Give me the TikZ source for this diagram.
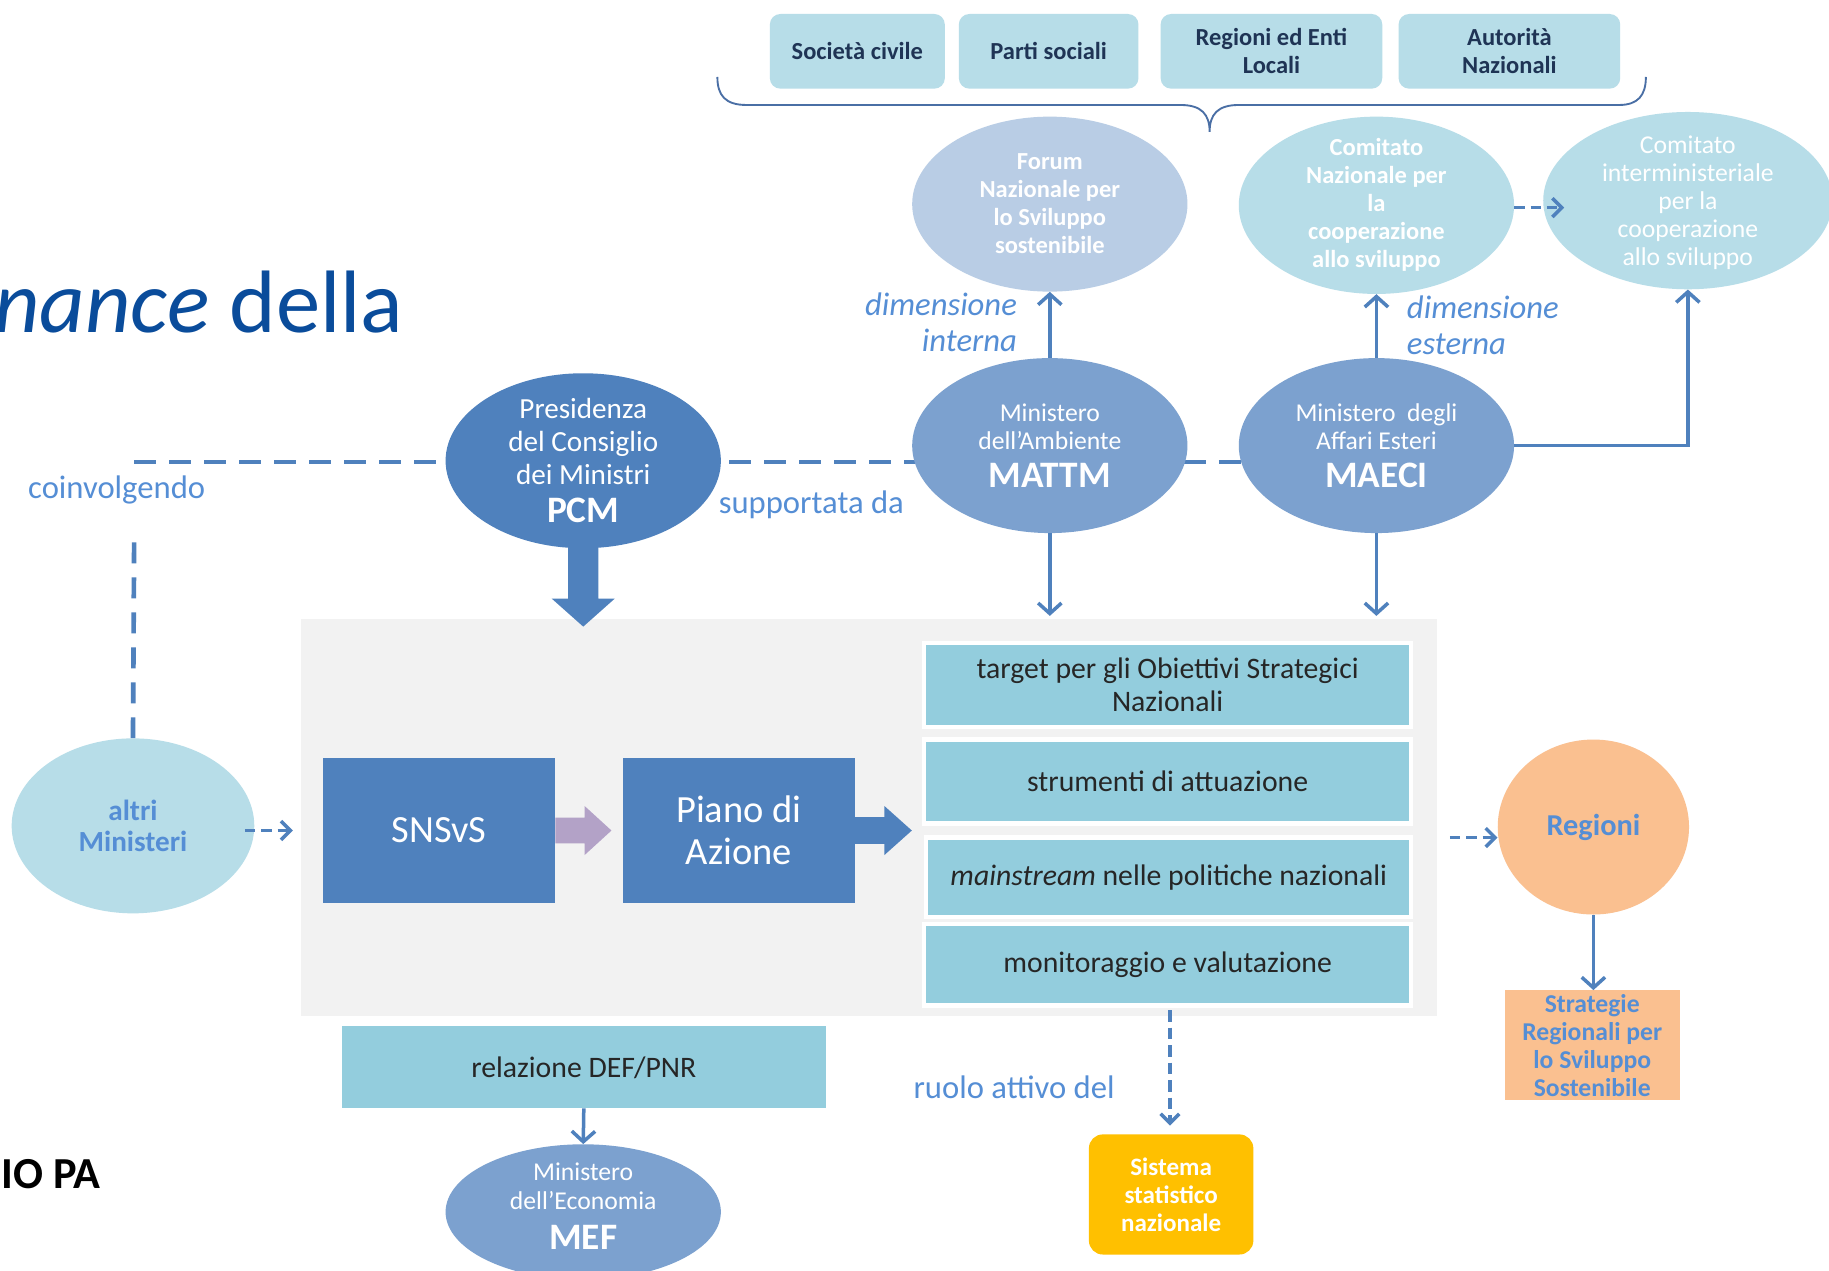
\documentclass[tikz,border=0pt]{standalone}
\usepackage{fontspec}
\setmainfont{Carlito}
\usetikzlibrary{shapes.geometric,arrows.meta,calc}
\definecolor{pcmblue}{RGB}{79,129,189}
\definecolor{minblue}{RGB}{124,161,207}
\definecolor{forumc}{RGB}{185,205,229}
\definecolor{cyanl}{RGB}{183,221,232}
\definecolor{listc}{RGB}{147,205,221}
\definecolor{orangel}{RGB}{250,192,144}
\definecolor{yell}{RGB}{255,192,0}
\definecolor{lblue}{RGB}{85,142,213}
\definecolor{purp}{RGB}{179,162,199}
\definecolor{panelc}{RGB}{242,242,242}
\definecolor{navy}{RGB}{31,52,85}
\definecolor{titleblue}{RGB}{10,76,155}
\definecolor{txtdark}{RGB}{38,38,38}
\definecolor{bracec}{RGB}{74,111,165}
\pgfdeclarelayer{bg}
\pgfsetlayers{bg,main}
\newcommand{\fsz}[2]{\fontsize{#1}{#2}\selectfont}
\tikzset{
  topbox/.style={rounded corners=9pt, fill=cyanl, text=navy, font=\bfseries\fsz{21}{24}, align=center, inner sep=0pt, minimum height=64pt},
  ellnode/.style={ellipse, inner sep=0pt, draw=none},
  elltxt/.style={align=center, inner sep=0pt, text=white},
  listbox/.style={fill=listc, draw=white, line width=3.5pt, inner sep=0pt, minimum width=418pt, align=center, text=txtdark, font=\fsz{25.5}{28}},
  bluebox/.style={fill=pcmblue, inner sep=0pt, minimum width=199pt, minimum height=124pt, text=white, align=center, font=\fsz{33}{36}},
  lbl/.style={text=lblue, inner sep=0pt, font=\fsz{28}{31}},
  conn/.style={draw=pcmblue, line width=3pt, -{Straight Barb[length=9pt,width=20pt,line width=3pt]}},
  dconn/.style={draw=pcmblue, line width=3pt, dash pattern=on 9pt off 5pt, -{Straight Barb[length=8pt,width=16pt,line width=3pt]}},
  dline/.style={draw=pcmblue, line width=4pt, dash pattern=on 19pt off 11pt},
}
\begin{document}
\begin{tikzpicture}[x=1pt,y=-1pt]
\useasboundingbox (0,0) rectangle (1568,1089);
\begin{pgfonlayer}{bg}
\fill[white] (0,0) rectangle (1568,1089);
\end{pgfonlayer}

% title fragments
\node[anchor=base east, inner sep=0pt, text=titleblue, font=\fsz{76}{80}] (title) at (346,285) {\textit{nance} della};
\node[anchor=base west, inner sep=0pt, text=black, font=\bfseries\fsz{38}{42}] (iopa) at (1,1019) {IO PA};

% top boxes
\node[topbox, minimum width=150pt] (soc) at (735,44) {Società civile};
\node[topbox, minimum width=154pt] (par) at (899,44) {Parti sociali};
\node[topbox, minimum width=190pt] (reg) at (1090,44) {Regioni ed Enti\\Locali};
\node[topbox, minimum width=190pt] (aut) at (1294,44) {Autorità\\Nazionali};

% brace
\draw[bracec, line width=1.6pt] (615,66) .. controls (615,82) and (622,90) .. (640,90) -- (1012,90)
  .. controls (1030,90) and (1037,98) .. (1037,113)
  .. controls (1037,98) and (1044,90) .. (1062,90) -- (1388,90)
  .. controls (1404,90) and (1411,82) .. (1411,66);

% grey panel
\node[fill=panelc, inner sep=0pt, minimum width=974pt, minimum height=340pt] (panel) at (745,701) {};

% ellipses
\node[ellnode, fill=forumc, minimum width=236pt, minimum height=150pt] (forum) at (900,175) {};
\node[elltxt, font=\bfseries\fsz{21}{24}] (forumt) at (forum) {Forum\\Nazionale per\\lo Sviluppo\\sostenibile};

\node[ellnode, fill=cyanl, minimum width=236pt, minimum height=152pt] (comn) at (1180,176) {};
\node[elltxt, font=\bfseries\fsz{21}{24}] (comnt) at (comn) {Comitato\\Nazionale per\\la\\cooperazione\\allo sviluppo};

\node[ellnode, fill=cyanl, minimum width=248pt, minimum height=152pt] (cint) at (1447,172) {};
\node[elltxt, font=\fsz{22}{24}] (cintt) at (1447,174) {Comitato\\interministeriale\\per la\\cooperazione\\allo sviluppo};

\node[ellnode, fill=minblue, minimum width=236pt, minimum height=150pt] (mattm) at (900,382) {};
\node[elltxt, font=\fsz{22}{24}] (mattmt) at (mattm) {Ministero\\dell’Ambiente\\[8pt]{\bfseries\fsz{32}{34}MATTM}};

\node[ellnode, fill=minblue, minimum width=236pt, minimum height=150pt] (maeci) at (1180,382) {};
\node[elltxt, font=\fsz{22}{24}] (maecit) at (maeci) {Ministero\ \ degli\\Affari Esteri\\[8pt]{\bfseries\fsz{32}{34}MAECI}};

\node[ellnode, fill=pcmblue, minimum width=236pt, minimum height=150pt] (pcm) at (500,395) {};
\node[elltxt, font=\fsz{25}{28}] (pcmt) at (pcm) {Presidenza\\del Consiglio\\dei Ministri\\[5pt]{\bfseries\fsz{32}{34}PCM}};

\node[ellnode, fill=minblue, minimum width=236pt, minimum height=116pt] (mef) at (500,1039) {};
\node[elltxt, font=\fsz{22}{25}] (meft) at (500,1034) {Ministero\\dell’Economia\\[9pt]{\bfseries\fsz{32}{34}MEF}};

\node[ellnode, fill=cyanl, minimum width=208pt, minimum height=150pt] (altri) at (114,708) {};
\node[elltxt, text=lblue, font=\bfseries\fsz{25}{27}] (altrit) at (altri) {altri\\Ministeri};

\node[ellnode, fill=orangel, minimum width=164pt, minimum height=150pt] (regioni) at (1366,709) {};
\node[elltxt, text=lblue, font=\bfseries\fsz{26}{28}] (regionit) at (regioni) {Regioni};

% boxes
\node[bluebox] (snsvs) at (376.5,712) {SNSvS};
\node[bluebox] (piano) at (633.5,712) {Piano di\\Azione};

\node[listbox, minimum height=72pt] (l1) at (1001,587) {target per gli Obiettivi Strategici\\Nazionali};
\node[listbox, minimum height=72pt] (l2) at (1001,670) {strumenti di attuazione};
\node[listbox, minimum height=68pt, minimum width=416pt] (l3) at (1002,752) {\textit{mainstream} nelle politiche nazionali};
\node[listbox, minimum height=70pt] (l4) at (1001,827) {monitoraggio e valutazione};

\node[fill=listc, inner sep=0pt, minimum width=415pt, minimum height=70pt, text=txtdark, font=\fsz{25.5}{28}] (rel) at (500.5,915) {relazione DEF/PNR};

\node[fill=orangel, inner sep=0pt, minimum width=150pt, minimum height=94pt, align=center, text=lblue, font=\bfseries\fsz{22}{24}] (strat) at (1365,896) {Strategie\\Regionali per\\lo Sviluppo\\Sostenibile};

\node[fill=yell, rounded corners=12pt, inner sep=0pt, minimum width=141pt, minimum height=103pt, align=center, text=white, font=\bfseries\fsz{21.5}{24}] (sist) at (1004,1024) {Sistema\\statistico\\nazionale};

% labels
\node[lbl, anchor=west] (coinv) at (24,420) {coinvolgendo};
\node[lbl, anchor=west] (supp) at (616,433) {supportata da};
\node[lbl, anchor=west] (ruolo) at (783,932) {ruolo attivo del};
\node[lbl, anchor=east, align=right, font=\itshape\fsz{28}{31}] (dimi) at (872,276) {dimensione\\interna};
\node[lbl, anchor=west, align=left, font=\itshape\fsz{28}{31}] (dime) at (1206,279) {dimensione\\esterna};

% coordinates
\coordinate (c1) at (115,396);
\coordinate (c2) at (115,465);
\coordinate (mattmdown) at (900,528);
\coordinate (maecidown) at (1180,528);
\coordinate (cintin) at (1341,178);
\coordinate (altrio) at (210,712);
\coordinate (altrie) at (251,712);
\coordinate (regin) at (1243,718);
\coordinate (sistin) at (1003,965);
\coordinate (l4o) at (1003,866);

% dashed lines behind shapes
\begin{pgfonlayer}{bg}
\draw[dline] (c1) -- (c1 -| maeci.center);
\end{pgfonlayer}
\draw[draw=pcmblue, line width=4pt, dash pattern=on 18pt off 12pt] (c2) -- (altri.north);

% connectors
\draw[conn] (mattm.north) -- (forum.south);
\draw[conn] (maeci.north) -- (comn.south);
\draw[conn] (maeci.east) -| (cint.south);
\draw[conn] (mattm.south) -- (mattmdown);
\draw[conn] (maeci.south) -- (maecidown);
\draw[dconn] (comn.east |- cintin) -- (cintin);
\draw[dconn] (altrio) -- (altrie);
\draw[dconn] (regin) -- (regin -| regioni.west);
\draw[conn] (regioni.south) -- (regioni.south |- strat.north);
\draw[conn] (rel.south) -- (mef.north);
\draw[dconn, dash pattern=on 10pt off 5pt] (l4o) -- (sistin);

% block arrows
\fill[pcmblue] ($(pcm.south)+(-13,-8)$) -- ($(pcm.south)+(13,-8)$) -- ($(pcm.south)+(13,43)$) -- ($(pcm.south)+(27,43)$) -- ($(pcm.south)+(0,67)$) -- ($(pcm.south)+(-27,43)$) -- ($(pcm.south)+(-13,43)$) -- cycle;
\fill[purp] ($(snsvs.east)+(0,-11)$) -- ($(snsvs.east)+(25,-11)$) -- ($(snsvs.east)+(25,-21)$) -- ($(snsvs.east)+(48,0)$) -- ($(snsvs.east)+(25,21)$) -- ($(snsvs.east)+(25,11)$) -- ($(snsvs.east)+(0,11)$) -- cycle;
\fill[pcmblue] ($(piano.east)+(-1,-11.5)$) -- ($(piano.east)+(25,-11.5)$) -- ($(piano.east)+(25,-21)$) -- ($(piano.east)+(48.5,0)$) -- ($(piano.east)+(25,21)$) -- ($(piano.east)+(25,11.5)$) -- ($(piano.east)+(-1,11.5)$) -- cycle;
\end{tikzpicture}
\end{document}
